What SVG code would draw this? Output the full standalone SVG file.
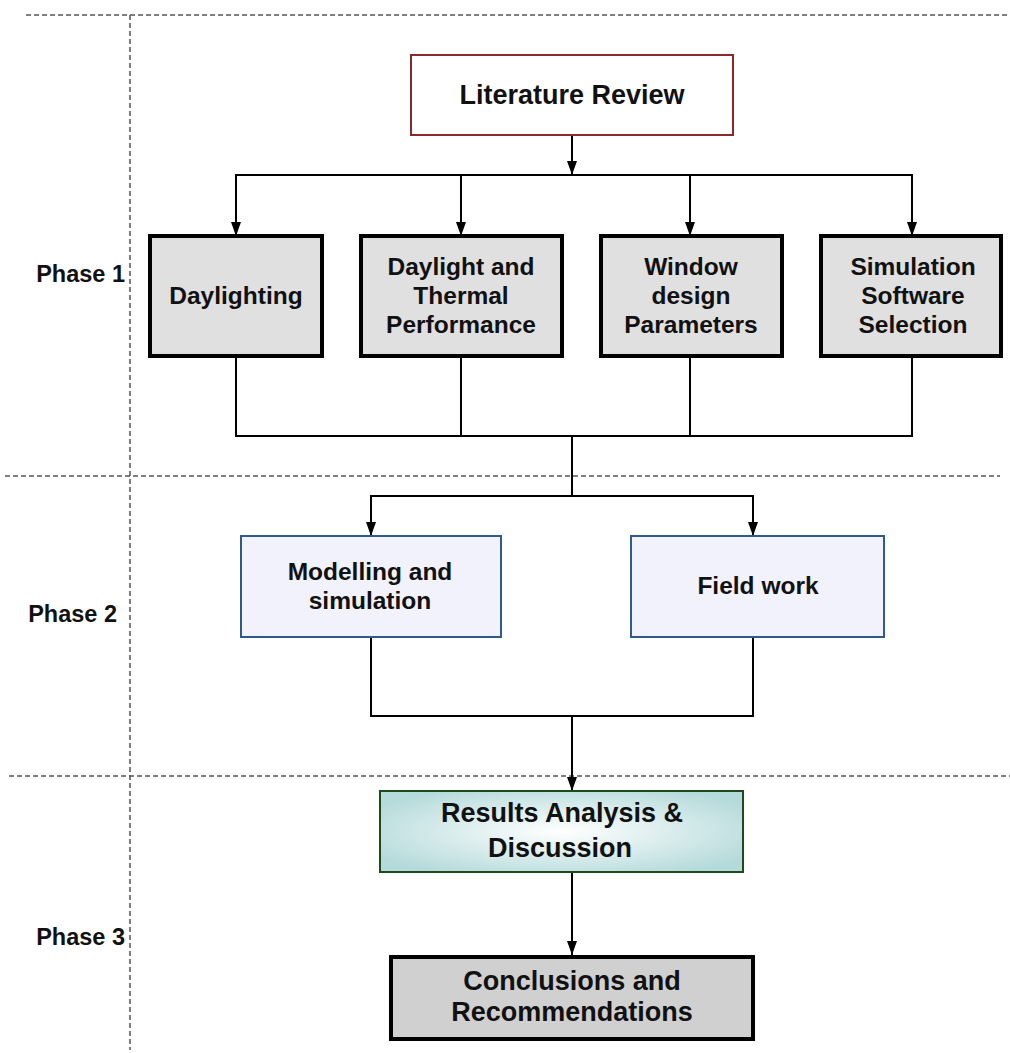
<svg xmlns="http://www.w3.org/2000/svg" width="1010" height="1053" viewBox="0 0 1010 1053">
<style>
text{font-family:"Liberation Sans",Arial,sans-serif;font-weight:bold;fill:#111;text-anchor:middle}
.t{font-size:24.5px}
.b{font-size:27px}
.ph{font-size:23.5px;text-anchor:end}
.grey{fill:#e0e0e0;stroke:#000;stroke-width:4}
.blue{fill:#f1f2fc;stroke:#2f5a8a;stroke-width:2}
.dash{stroke:#555;stroke-width:1.5;stroke-dasharray:5,3;fill:none}
.c{stroke:#000;stroke-width:2;fill:none}
</style>
<defs>
<marker id="ah" markerWidth="14" markerHeight="10" refX="14" refY="5" orient="auto" markerUnits="userSpaceOnUse">
<path d="M0,0 L14,5 L0,10 Z" fill="#000"/>
</marker>
<radialGradient id="rg" cx="0.5" cy="0.5" r="0.6">
<stop offset="0" stop-color="#ffffff"/>
<stop offset="1" stop-color="#b5dada"/>
</radialGradient>
</defs>
<g id="guides">
<line class="dash" x1="26" y1="15" x2="1010" y2="15"/>
<line class="dash" x1="130" y1="15" x2="130" y2="1050"/>
<line class="dash" x1="5" y1="476" x2="1000" y2="476"/>
<line class="dash" x1="9" y1="776" x2="1010" y2="776"/>
</g>
<g id="labels">
<text class="ph" x="125" y="282">Phase 1</text>
<text class="ph" x="117" y="622">Phase 2</text>
<text class="ph" x="125" y="945">Phase 3</text>
</g>
<g id="connectors">
<line class="c" x1="572" y1="135" x2="572" y2="175" marker-end="url(#ah)"/>
<line class="c" x1="235" y1="175" x2="913" y2="175"/>
<line class="c" x1="236" y1="175" x2="236" y2="236" marker-end="url(#ah)"/>
<line class="c" x1="461" y1="175" x2="461" y2="236" marker-end="url(#ah)"/>
<line class="c" x1="690" y1="175" x2="690" y2="236" marker-end="url(#ah)"/>
<line class="c" x1="912" y1="175" x2="912" y2="236" marker-end="url(#ah)"/>
<polyline class="c" points="236,356 236,436 912,436 912,356"/>
<line class="c" x1="461" y1="356" x2="461" y2="436"/>
<line class="c" x1="690" y1="356" x2="690" y2="436"/>
<line class="c" x1="572" y1="436" x2="572" y2="496"/>
<line class="c" x1="370" y1="496" x2="754" y2="496"/>
<line class="c" x1="371" y1="496" x2="371" y2="536" marker-end="url(#ah)"/>
<line class="c" x1="753" y1="496" x2="753" y2="536" marker-end="url(#ah)"/>
<polyline class="c" points="371,637 371,716 753,716 753,637"/>
<line class="c" x1="572" y1="716" x2="572" y2="791" marker-end="url(#ah)"/>
<line class="c" x1="572" y1="872" x2="572" y2="955" marker-end="url(#ah)"/>
</g>
<g id="literature">
<rect x="411" y="55" width="322" height="80" fill="#fff" stroke="#8b2a2a" stroke-width="2"/>
<text class="b" x="572" y="104">Literature Review</text>
</g>
<g id="daylighting">
<rect class="grey" x="150" y="236" width="172" height="120"/>
<text class="t" x="236" y="304">Daylighting</text>
</g>
<g id="daylight-thermal">
<rect class="grey" x="361" y="236" width="201" height="120"/>
<text class="t" x="461" y="275">Daylight and</text>
<text class="t" x="461" y="304">Thermal</text>
<text class="t" x="461" y="333">Performance</text>
</g>
<g id="window">
<rect class="grey" x="601" y="236" width="181" height="120"/>
<text class="t" x="691" y="275">Window</text>
<text class="t" x="691" y="304">design</text>
<text class="t" x="691" y="333">Parameters</text>
</g>
<g id="simulation">
<rect class="grey" x="821" y="236" width="180" height="120"/>
<text class="t" x="913" y="275">Simulation</text>
<text class="t" x="913" y="304">Software</text>
<text class="t" x="913" y="333">Selection</text>
</g>
<g id="modelling">
<rect class="blue" x="241" y="536" width="260" height="101"/>
<text class="t" x="370" y="580">Modelling and</text>
<text class="t" x="370" y="609">simulation</text>
</g>
<g id="fieldwork">
<rect class="blue" x="631" y="536" width="253" height="101"/>
<text class="t" x="758" y="594">Field work</text>
</g>
<g id="results">
<rect x="380" y="791" width="363" height="81" fill="url(#rg)" stroke="#1e4a1e" stroke-width="2"/>
<text class="b" x="562" y="822">Results Analysis &amp;</text>
<text class="b" x="560" y="857">Discussion</text>
</g>
<g id="conclusions">
<rect x="391" y="957" width="362" height="82" fill="#d0d0d0" stroke="#000" stroke-width="4"/>
<text class="b" x="572" y="990">Conclusions and</text>
<text class="b" x="572" y="1021">Recommendations</text>
</g>
</svg>
